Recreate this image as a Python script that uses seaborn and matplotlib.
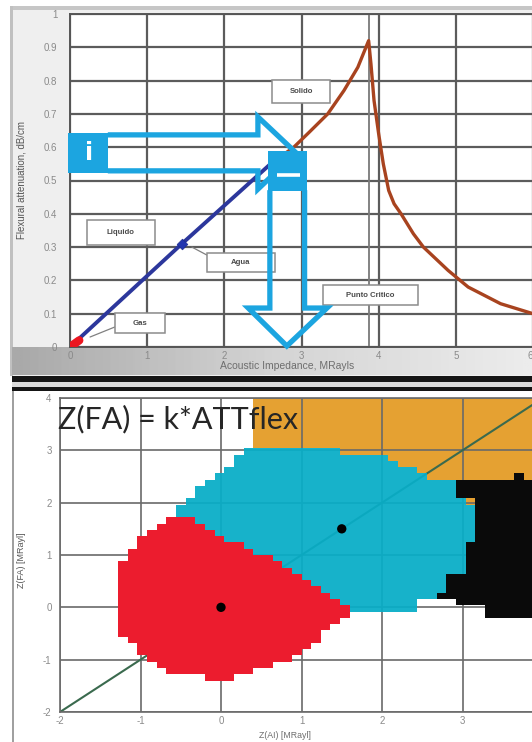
import numpy as np
import matplotlib
matplotlib.use("Agg")
import matplotlib.pyplot as plt
import seaborn as sns
from matplotlib.colors import ListedColormap
from matplotlib.path import Path
from matplotlib.patches import Rectangle, Polygon

sns.set_theme(style="white")
plt.rcParams["font.family"] = ["Liberation Sans", "DejaVu Sans"]

# ---------------- upper chart: attenuation vs impedance ----------------
gas_x = [0.0, 0.12]
gas_y = [0.0, 0.02]
liquid_x = [0.0, 1.45, 2.6]
liquid_y = [0.0, 0.31, 0.55]
solid_x = [2.6, 2.9, 3.1, 3.34, 3.55, 3.73, 3.87, 3.9, 3.94, 4.0, 4.06, 4.13,
           4.2, 4.29, 4.45, 4.58, 4.9, 5.16, 5.58, 6.0]
solid_y = [0.55, 0.60, 0.645, 0.70, 0.77, 0.84, 0.92, 0.85, 0.74, 0.64, 0.55, 0.47,
           0.43, 0.40, 0.34, 0.30, 0.23, 0.18, 0.13, 0.10]
water_x = [1.45]
water_y = [0.31]
critical_x = [3.87, 3.87]
critical_y = [0.0, 1.0]
top_xticks = [0, 1, 2, 3, 4, 5, 6]
top_yticks = [0, 0.1, 0.2, 0.3, 0.4, 0.5, 0.6, 0.7, 0.8, 0.9, 1]
top_yticklabels = ["0", "0.1", "0.2", "0.3", "0.4", "0.5", "0.6", "0.7", "0.8", "0.9", "1"]

# ---------------- lower chart: classification map ----------------
orange_zone = [(0.37, 4.3), (4.3, 4.3), (4.3, 2.0), (2.9, 2.0), (1.5, 2.8), (0.37, 2.8)]
cyan_zone = [(0.30, 3.04), (1.5, 3.04), (1.55, 2.92), (2.0, 2.9), (2.1, 2.77),
             (2.45, 2.6), (2.65, 2.47), (2.95, 2.36), (3.1, 2.0), (3.1, 0.2),
             (2.45, 0.12), (2.45, -0.03), (1.6, -0.03), (0.3, 0.5), (-0.6, 1.5),
             (-0.62, 1.75), (-0.46, 1.95), (-0.31, 2.2), (-0.12, 2.47), (0.12, 2.72)]
black_zone = [(2.95, 2.43), (3.6, 2.43), (3.6, 2.53), (3.73, 2.53), (3.73, 2.43),
              (4.3, 2.43), (4.3, -0.15), (3.27, -0.15), (3.27, 0.0), (2.94, 0.0),
              (2.94, 0.13), (2.63, 0.13), (2.63, 0.33), (2.8, 0.33), (2.8, 0.65),
              (2.99, 0.65), (2.99, 1.3), (3.1, 1.3), (3.1, 2.05), (2.95, 2.05)]
red_zone = [(-0.65, 1.75), (-0.4, 1.75), (-0.04, 1.4), (0.45, 1.05), (0.9, 0.7),
            (1.3, 0.27), (1.65, -0.05), (1.62, -0.15), (1.45, -0.3), (1.33, -0.45),
            (1.16, -0.67), (1.03, -0.82), (0.9, -0.97), (0.66, -1.1), (0.4, -1.25),
            (0.19, -1.35), (0.19, -1.42), (-0.12, -1.42), (-0.12, -1.35),
            (-0.62, -1.25), (-0.87, -1.05), (-1.0, -0.85), (-1.12, -0.65),
            (-1.27, -0.45), (-1.27, 0.85), (-1.1, 1.1), (-0.97, 1.32), (-0.83, 1.47)]
centers_x = [0.0, 1.5]
centers_y = [0.0, 1.5]
diag_x = [-2.0, 4.0]
diag_y = [-2.0, 4.0]
low_ticks = [-2, -1, 0, 1, 2, 3, 4]
low_xticklabels = ["-2", "-1", "0", "1", "2", "3", ""]
low_yticklabels = ["-2", "-1", "0", "1", "2", "3", "4"]

W, H = 532, 742
fig = plt.figure(figsize=(W / 100, H / 100), dpi=100)
fig.patch.set_facecolor("white")


def frac(px_left, px_top, px_right, px_bottom):
    return [px_left / W, 1 - px_bottom / H, (px_right - px_left) / W, (px_bottom - px_top) / H]


# ---- panel backgrounds (pixel space) ----
bg = fig.add_axes([0, 0, 1, 1], zorder=-10)
bg.set_xlim(0, W)
bg.set_ylim(H, 0)
bg.axis("off")
bg.add_patch(Rectangle((10, 6), 522, 370, fc="#efefef", ec="none"))
bg.add_patch(Rectangle((10, 6), 522, 4, fc="#c6c6c6", ec="none"))
bg.add_patch(Rectangle((10, 6), 2.5, 370, fc="#c0c0c0", ec="none"))
grad = np.linspace(0, 1, 200)[None, :]
bg.imshow(grad, extent=(12, 532, 375, 347), aspect="auto",
          cmap=ListedColormap(sns.blend_palette(["#a9a9a9", "#d4d4d4", "#ececec"], 64)),
          zorder=1)
bg.add_patch(Rectangle((12, 376), 520, 6, fc="#151515", ec="none", zorder=2))
bg.add_patch(Rectangle((12, 382), 520, 5, fc="#dadada", ec="none", zorder=2))
bg.add_patch(Rectangle((12, 387), 520, 3.5, fc="#151515", ec="none", zorder=2))
bg.add_patch(Rectangle((12, 391), 1.6, 351, fc="#a0a0a0", ec="none", zorder=2))

# ================= upper chart =================
ax = fig.add_axes(frac(70, 14, 533, 347))
ax.set_facecolor("white")
grid_c = "#5c5c5c"
for gx in top_xticks:
    ax.axvline(gx, color=grid_c, lw=1.6, zorder=1)
for gy in top_yticks:
    ax.axhline(gy, color=grid_c, lw=1.6, zorder=1)
sns.lineplot(x=critical_x, y=critical_y, ax=ax, color="#7a7a7a", lw=1.3, sort=False,
             estimator=None, zorder=1)
sns.lineplot(x=solid_x, y=solid_y, ax=ax, color="#a8431f", lw=2.4, sort=False,
             estimator=None, zorder=3)
sns.lineplot(x=liquid_x, y=liquid_y, ax=ax, color="#2c379c", lw=2.8, sort=False,
             estimator=None, zorder=3)
sns.lineplot(x=gas_x, y=gas_y, ax=ax, color="#ec1620", lw=6, sort=False,
             estimator=None, zorder=4)
sns.scatterplot(x=water_x, y=water_y, ax=ax, color="#2336b0", marker="D", s=30,
                edgecolor="#1b2a8a", zorder=5)
ax.set_xlim(0, 6)
ax.set_ylim(0, 1)
ax.set_xticks(top_xticks)
ax.set_yticks(top_yticks)
ax.set_xticklabels([str(t) for t in top_xticks])
ax.set_yticklabels(top_yticklabels)
ax.tick_params(axis="both", length=0, labelsize=7, labelcolor="#8a8a8a")
ax.tick_params(axis="y", pad=9)
ax.tick_params(axis="x", pad=3)
ax.get_xticklabels()[-1].set_horizontalalignment("right")
ax.set_xlabel("")
ax.set_ylabel("")
for s in ax.spines.values():
    s.set_color("#555555")
    s.set_linewidth(1.4)

# label boxes
label_boxes = [("Solido", 2.62, 3.37, 0.733, 0.802),
               ("Liquido", 0.22, 1.10, 0.306, 0.381),
               ("Agua", 1.77, 2.66, 0.225, 0.282),
               ("Gas", 0.58, 1.23, 0.042, 0.102),
               ("Punto Critico", 3.28, 4.51, 0.126, 0.186)]
for txt, x0, x1, y0, y1 in label_boxes:
    ax.add_patch(Rectangle((x0, y0), x1 - x0, y1 - y0, fc="white", ec="#8c8c8c",
                           lw=1.1, zorder=6))
    ax.text((x0 + x1) / 2, (y0 + y1) / 2, txt, ha="center", va="center", fontsize=5.6,
            fontweight="bold", color="#4a4a4a", zorder=7)
ax.plot([1.58, 1.775], [0.30, 0.276], color="#808080", lw=0.9, zorder=5)
ax.plot([0.26, 0.58], [0.03, 0.06], color="#808080", lw=0.9, zorder=5)

# cyan arrows
cy = "#1ca5e0"
ax.add_patch(Polygon([(0.49, 0.637), (2.435, 0.637), (2.435, 0.691), (2.93, 0.583),
                      (2.435, 0.474), (2.435, 0.529), (0.49, 0.529)], closed=False,
                     fill=False, ec=cy, lw=3.8, joinstyle="miter", zorder=8))
ax.add_patch(Rectangle((-0.03, 0.522), 0.52, 0.122, fc=cy, ec="none", zorder=8,
                       clip_on=False))
ax.text(0.25, 0.584, "i", color="white", fontsize=17, fontweight="bold",
        ha="center", va="center", zorder=9, family="DejaVu Sans")
ax.add_patch(Polygon([(2.59, 0.471), (2.59, 0.117), (2.31, 0.117), (2.81, 0.003),
                      (3.33, 0.117), (3.04, 0.117), (3.04, 0.471)], closed=False,
                     fill=False, ec=cy, lw=3.8, joinstyle="miter", zorder=8,
                     clip_on=False))
ax.add_patch(Rectangle((2.565, 0.469), 0.505, 0.119, fc=cy, ec="none", zorder=9))
ax.plot([2.68, 2.98], [0.518, 0.518], color="white", lw=2.6, zorder=10,
        solid_capstyle="butt")

fig.text(287 / W, 1 - 366 / H, "Acoustic Impedance, MRayls", ha="center", va="center",
         fontsize=7.5, color="#6e6e6e")
fig.text(22 / W, 1 - 180 / H, "Flexural attenuation, dB/cm", ha="center", va="center",
         rotation=90, fontsize=7, color="#555555")

# ================= lower chart =================
step = 0.12
n = 50
xc = -2 + step * (np.arange(n) + 0.5)
yc = 4 - step * (np.arange(n) + 0.5)
XX, YY = np.meshgrid(xc, yc)
pts = np.column_stack([XX.ravel(), YY.ravel()])
codes = np.zeros(n * n)
for code, poly in [(1, orange_zone), (2, cyan_zone), (3, black_zone), (4, red_zone)]:
    codes[Path(poly).contains_points(pts)] = code
codes = codes.reshape(n, n)

pos = frac(60, 398, 543, 712)

# layer 1: orange zone
ax_o = fig.add_axes(pos, zorder=1)
orange_layer = np.where(codes == 1, 0.0, np.nan)
sns.heatmap(orange_layer, ax=ax_o, cmap=ListedColormap(["#e5a132"]), vmin=-0.5, vmax=0.5,
            cbar=False, xticklabels=False, yticklabels=False, linewidths=0,
            rasterized=True)
ax_o.set_xlim(0, n)
ax_o.set_ylim(n, 0)
ax_o.axis("off")

# layer 2: grid, diagonal and axes
ax2 = fig.add_axes(pos, zorder=2)
ax2.patch.set_alpha(0)
for g in low_ticks:
    ax2.axvline(g, color="#6a6a6a", lw=1.2, zorder=1)
    ax2.axhline(g, color="#6a6a6a", lw=1.2, zorder=1)
sns.lineplot(x=diag_x, y=diag_y, ax=ax2, color="#3a6a4e", lw=1.5, sort=False,
             estimator=None, zorder=2)
ax2.set_xlim(-2, 4)
ax2.set_ylim(-2, 4)
ax2.set_xticks(low_ticks)
ax2.set_yticks(low_ticks)
ax2.set_xticklabels(low_xticklabels)
ax2.set_yticklabels(low_yticklabels)
ax2.tick_params(axis="both", length=0, labelsize=7, labelcolor="#8a8a8a")
ax2.tick_params(axis="x", pad=3)
ax2.tick_params(axis="y", pad=6)
ax2.set_xlabel("")
ax2.set_ylabel("")
for s in ax2.spines.values():
    s.set_color("#6a6a6a")
    s.set_linewidth(1.2)

# layer 3: cyan, black and red zones
ax_c = fig.add_axes(pos, zorder=3)
top_layer = np.where(codes >= 2, codes - 2, np.nan)
sns.heatmap(top_layer, ax=ax_c,
            cmap=ListedColormap([(0.03, 0.68, 0.78, 0.94), "#0a0a0a", "#ec1c2e"]),
            vmin=-0.5, vmax=2.5, cbar=False, xticklabels=False, yticklabels=False,
            linewidths=0, rasterized=True)
ax_c.set_xlim(0, n)
ax_c.set_ylim(n, 0)
ax_c.axis("off")

# layer 4: class centres and formula
ax4 = fig.add_axes(pos, zorder=4)
ax4.patch.set_alpha(0)
sns.scatterplot(x=centers_x, y=centers_y, ax=ax4, color="black", s=45, edgecolor="none")
ax4.set_xlim(-2, 4)
ax4.set_ylim(-2, 4)
ax4.axis("off")
ax4.text(-2.02, 3.6, "Z(FA) = k*ATTflex", ha="left", va="center", fontsize=22,
         color="#262626", family=["Lato", "DejaVu Sans"])

fig.text(285 / W, 1 - 735.5 / H, "Z(AI) [MRayl]", ha="center", va="center",
         fontsize=6.3, color="#6e6e6e")
fig.text(22 / W, 1 - 560 / H, "Z(FA) [MRayl]", ha="center", va="center",
         rotation=90, fontsize=6.5, color="#555555")

fig.savefig("out.png", dpi=100)
